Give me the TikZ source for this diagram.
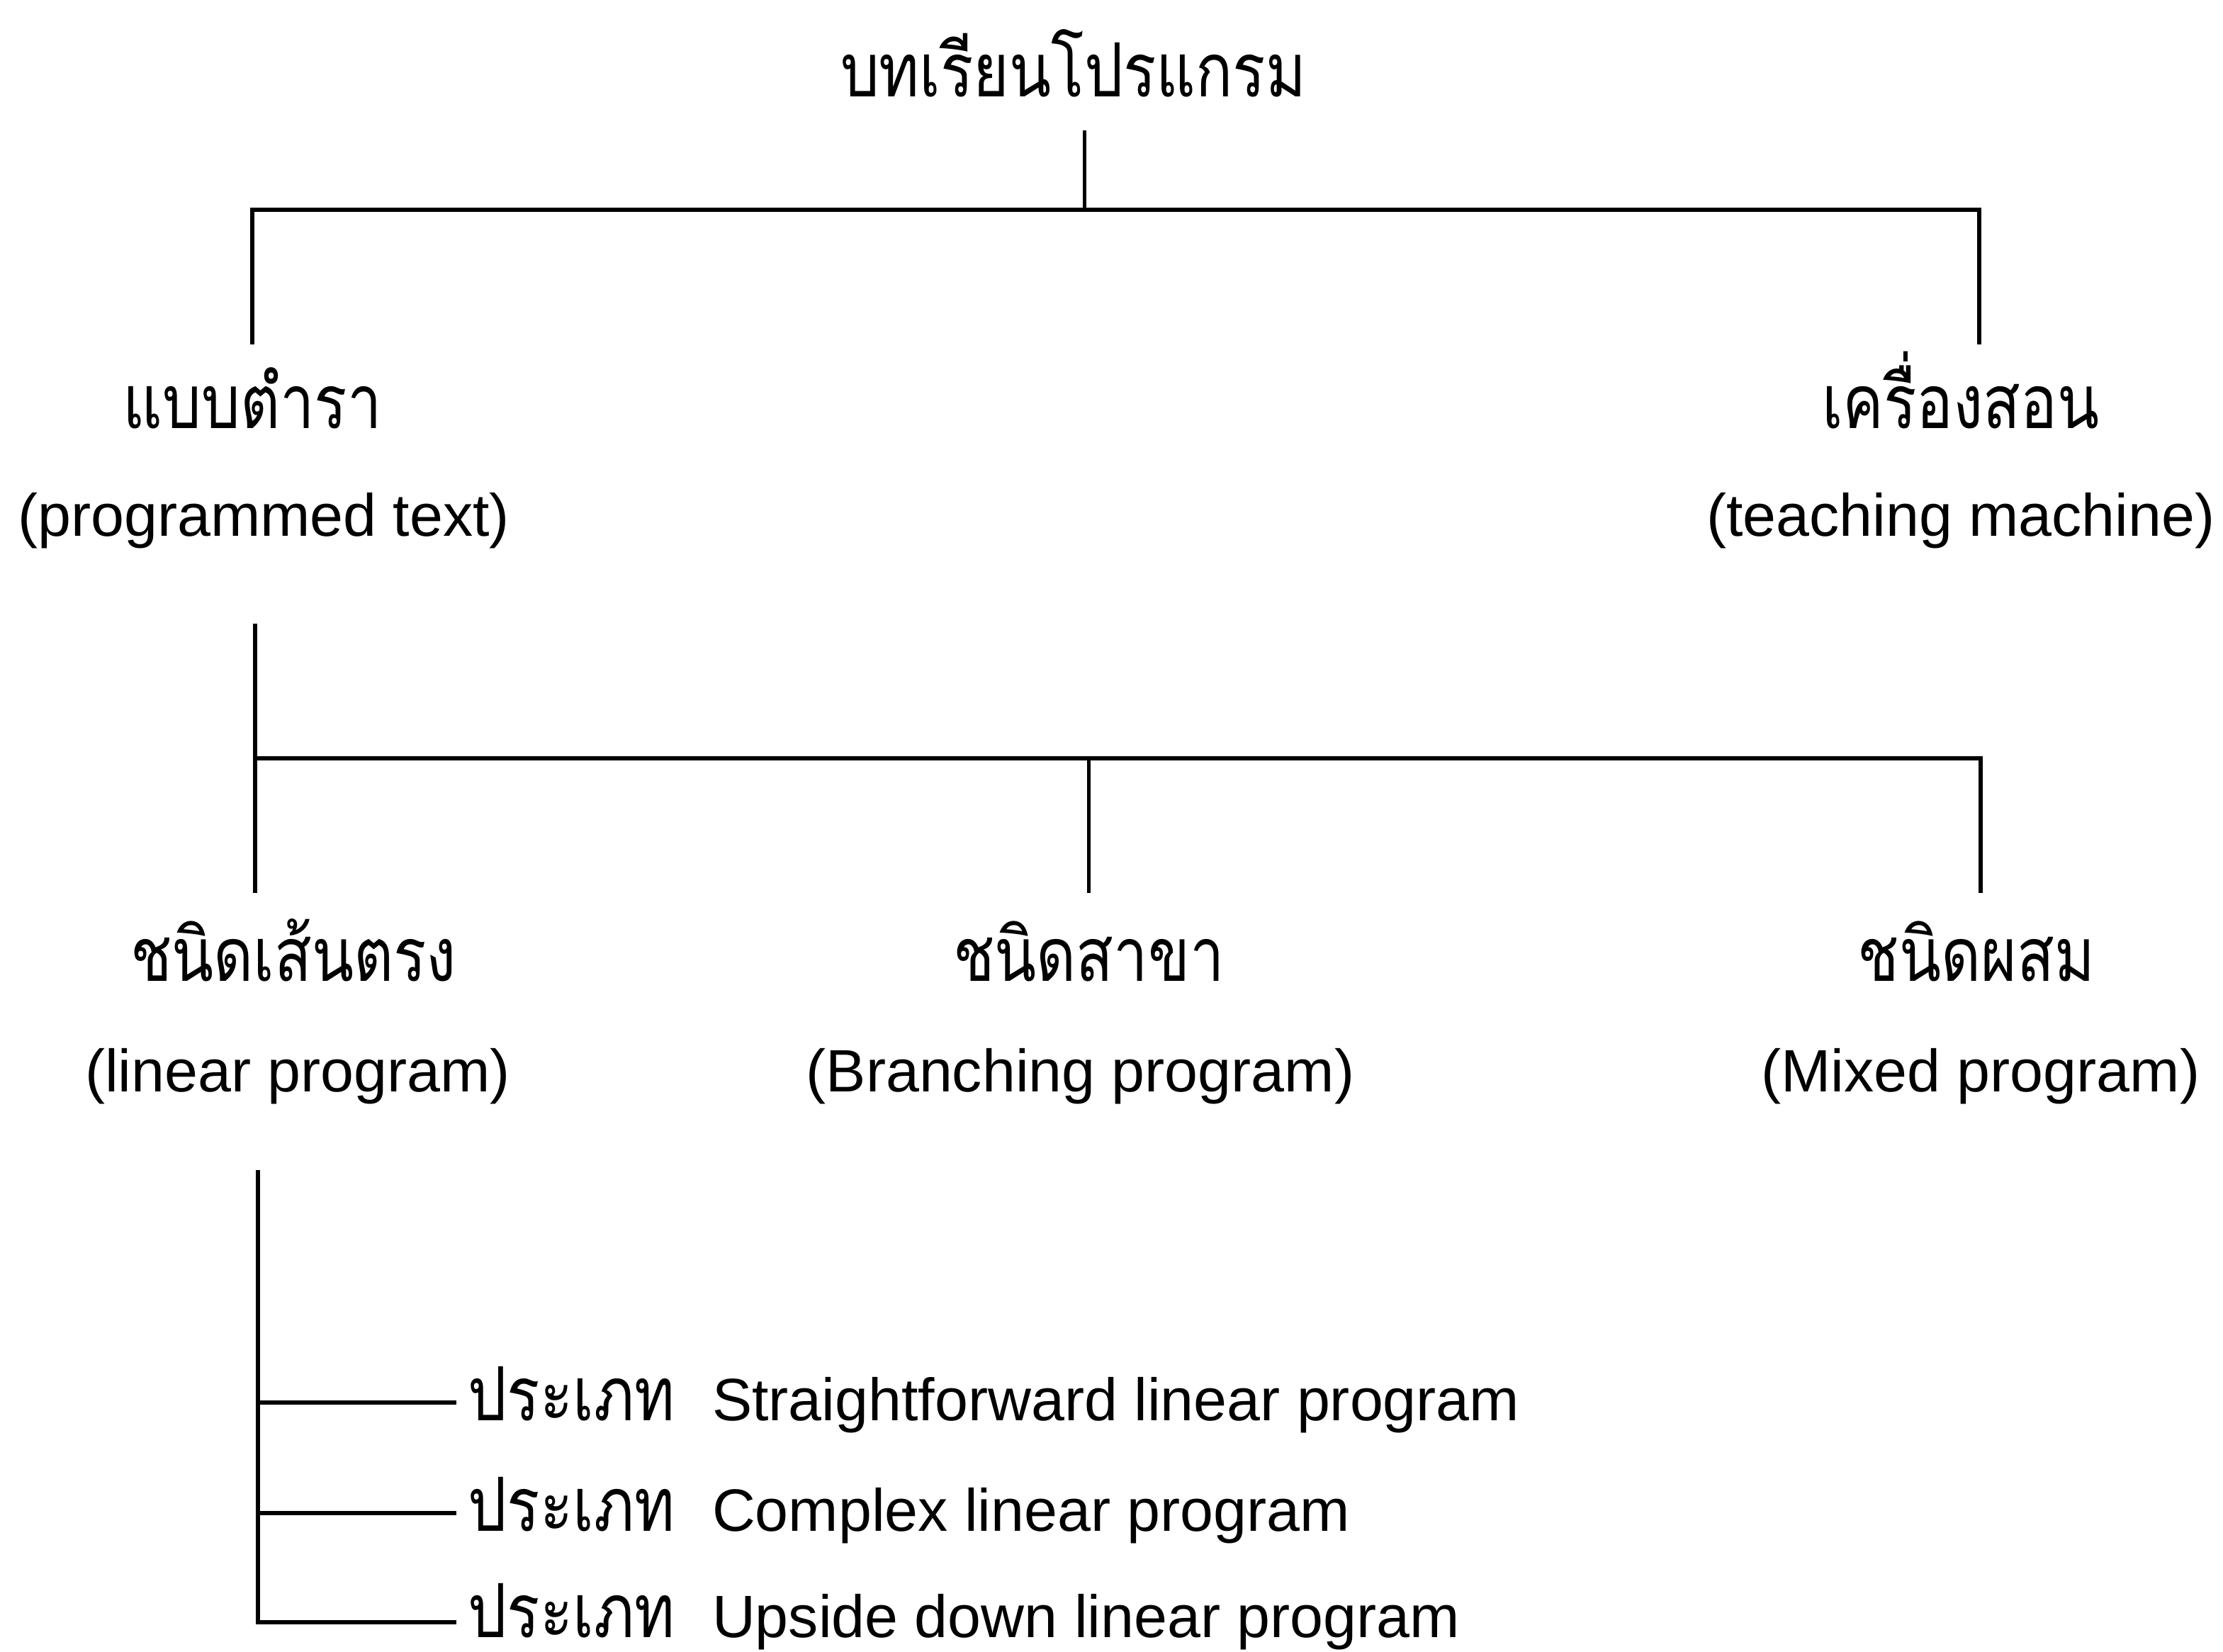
\documentclass[tikz,border=0pt]{standalone}
\usepackage{fontspec}
\setmainfont{Liberation Sans}
\newfontfamily\thaifont[Script=Thai,FakeStretch=0.82]{Loma}
\newcommand{\nodepth}[1]{\raisebox{0pt}[\height][0pt]{#1}}
\begin{document}
\begin{tikzpicture}[x=0.02cm,y=-0.02cm,
  th/.style={font=\thaifont\fontsize{30}{36}\selectfont,anchor=base,inner sep=0pt},
  en/.style={font=\fontsize{24}{29}\selectfont,anchor=base,inner sep=0pt},
  conn/.style={draw,line width=1.7pt},
  thinconn/.style={draw,line width=1.3pt}]
\useasboundingbox (0,0) rectangle (1568,1165);
% level 0
\node[th] (title) at (757,68) {บทเรียนโปรแกรม};
% level 1
\node[th] (pt) at (178,302) {แบบตำรา};
\node[en] (ptE) at (186,378) {(programmed text)};
\node[th] (tm) at (1383,302) {เครื่องสอน};
\node[en] (tmE) at (1383,378) {(teaching machine)};
% level 2
\node[th] (lin) at (207,692) {ชนิดเส้นตรง};
\node[en] (linE) at (210,770) {(linear program)};
\node[th] (br) at (768,692) {ชนิดสาขา};
\node[en] (brE) at (762,770) {(Branching program)};
\node[th] (mix) at (1394,692) {ชนิดผสม};
\node[en] (mixE) at (1397,770) {(Mixed program)};
% level 3
\node[th,anchor=base west] (s1t) at (330,1002) {\nodepth{ประเภท}};
\node[en,anchor=base west] (s1) at (502,1002) {Straightforward linear program};
\node[th,anchor=base west] (s2t) at (330,1080) {\nodepth{ประเภท}};
\node[en,anchor=base west] (s2) at (502,1080) {Complex linear program};
\node[th,anchor=base west] (s3t) at (330,1155) {\nodepth{ประเภท}};
\node[en,anchor=base west] (s3) at (502,1155) {Upside down linear program};
% junction coordinates
\coordinate (t0) at (765,92);
\coordinate (t1) at (765,148);
\coordinate (tl) at (178,148);
\coordinate (tr) at (1396,148);
\coordinate (ptd) at (178,243);
\coordinate (tmd) at (1396,243);
\coordinate (m0) at (180,440);
\coordinate (ml) at (180,535);
\coordinate (mm) at (768,535);
\coordinate (mr) at (1397,535);
\coordinate (lind) at (180,630);
\coordinate (brd) at (768,630);
\coordinate (mixd) at (1397,630);
\coordinate (v0) at (182,825);
\coordinate (v1) at (182,989);
\coordinate (v2) at (182,1067);
\coordinate (v3) at (182,1144);
\coordinate (e1) at (322,989);
\coordinate (e2) at (322,1067);
\coordinate (e3) at (322,1144);
% connectors
\draw[thinconn] (t0) -- (t1);
\draw[conn] (ptd) -- (tl) -- (tr) -- (tmd);
\draw[conn] (m0) -- (lind);
\draw[conn] (ml) -- (mr) -- (mixd);
\draw[conn] (mm) -- (brd);
\draw[conn] (v0) -- (v3) -- (e3);
\draw[conn] (v1) -- (e1);
\draw[conn] (v2) -- (e2);
\end{tikzpicture}
\end{document}
